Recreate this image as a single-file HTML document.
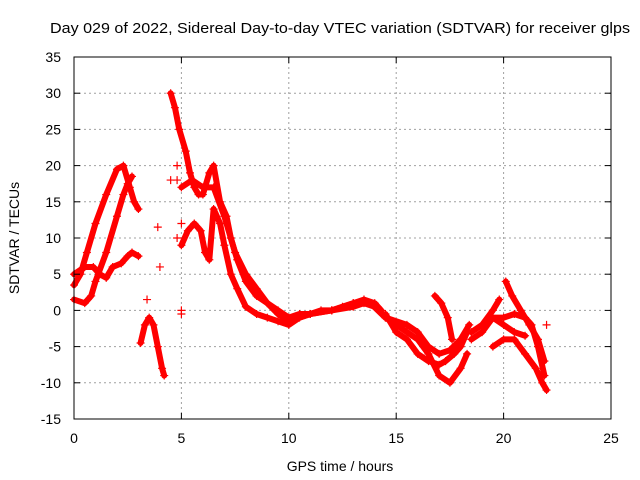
<!DOCTYPE html>
<html><head><meta charset="utf-8"><style>
body{margin:0;background:#fff;width:640px;height:480px;overflow:hidden}
svg{display:block}
text{font-family:"Liberation Sans",sans-serif;font-size:14px;fill:#000}
</style></head><body>
<svg id="chart" width="640" height="480" xmlns="http://www.w3.org/2000/svg">
<rect width="640" height="480" fill="#fff"/>
<g id="grid"></g>
<g id="marks"></g>
<rect x="74" y="57" width="537" height="362" fill="none" stroke="#000" stroke-width="1"/>
<g id="ticks"></g>
<text x="50" y="33" textLength="580" lengthAdjust="spacingAndGlyphs" style="font-size:15px">Day 029 of 2022, Sidereal Day-to-day VTEC variation (SDTVAR) for receiver glps</text>
<text x="340" y="471" text-anchor="middle">GPS time / hours</text>
<text x="19" y="238" text-anchor="middle" transform="rotate(-90 19 238)">SDTVAR / TECUs</text>
</svg>
<script>
const xTicks=[0,5,10,15,20,25];
const yTicks=[-15,-10,-5,0,5,10,15,20,25,30,35];
const trackA=[[0,3.5],[0.3,5],[0.6,8],[1,12],[1.5,16],[2,19.5],[2.3,20],[2.6,17],[2.8,15],[3.0,14]];
const trackB=[[0,1.5],[0.5,1],[0.8,2],[1,4],[1.5,8],[2,13],[2.3,16],[2.5,17.5],[2.7,18.5]];
const trackC=[[0,5],[0.5,6],[0.9,6],[1.2,5],[1.5,4.5],[1.8,6],[2.2,6.5],[2.5,7.5],[2.7,8],[3.0,7.5]];
const trackD=[[3.1,-4.5],[3.3,-2],[3.5,-1],[3.7,-2],[3.9,-5],[4.1,-8],[4.2,-9]];
const trackE=[[4.5,30],[4.7,28],[4.9,25],[5.2,22],[5.4,19],[5.6,17],[5.8,16],[6.0,16],[6.3,19],[6.5,20],[6.8,15],[7.1,13],[7.3,10],[7.6,7],[8,4],[8.5,2],[9,1],[9.5,0],[10,-1],[10.5,-0.5],[11,-0.5],[11.5,0],[12,0],[12.5,0.5],[13,1],[13.5,1.5],[14,1],[14.3,0]];
const trackF=[[5,9],[5.3,11],[5.6,12],[5.9,11],[6.1,8],[6.3,7],[6.5,14],[6.8,12],[7.0,9],[7.3,5],[7.6,3],[8,0.5],[8.5,-0.5],[9,-1],[9.5,-1.5],[10,-2],[10.5,-1],[11,-0.5],[12,0],[13,0.5],[13.5,1],[14,0.5],[14.5,-1],[15,-2],[15.5,-3],[16,-4],[16.5,-6],[17,-9],[17.5,-10],[18,-8],[18.3,-6]];
const trackG=[[5,17],[5.5,18],[6,17],[6.5,17],[7,13],[7.5,8],[8,5],[8.5,3],[9,1],[9.5,-0.5],[10,-1.5],[11,-0.5],[12,0],[13,1],[13.8,1],[14.5,-1],[15.5,-2],[16,-3],[16.5,-5],[17,-6],[17.5,-5.5],[18,-4],[18.4,-2]];
const trackH=[[14.5,-0.5],[15,-3],[15.5,-4],[16,-6],[16.5,-7],[17,-7.5],[17.3,-7],[17.7,-6],[18,-5],[18.3,-3]];
const trackI=[[16.8,2],[17.1,1],[17.4,-1],[17.6,-4]];
const trackJ=[[18.5,-3],[19,-2],[19.5,0],[19.8,1.5]];
const trackK=[[18.5,-4],[19,-3],[19.5,-1],[20,-1],[20.5,-0.5],[21,-1],[21.3,-2],[21.6,-5],[21.9,-9]];
const trackL=[[19.5,-5],[20,-4],[20.5,-4],[21,-6],[21.5,-8],[21.8,-10],[22,-11]];
const trackM=[[20.1,4],[20.4,2],[20.8,0],[21.2,-2],[21.6,-4],[21.9,-7]];
const trackN=[[19.5,-1],[20,-2],[20.5,-3],[21,-3.5]];
const scattered=[[3.4,1.5],[3.9,11.5],[4.0,6],[4.5,18],[5.0,0],[5.0,-0.5],[22,-2],[4.8,18],[4.8,10],[5.0,12],[6.2,8],[4.8,20]];
const tracks=[trackA,trackB,trackC,trackD,trackE,trackF,trackG,trackH,trackI,trackJ,trackK,trackL,trackM,trackN];

const X0=74,X1=611,Y0=419,Y1=57,xmin=0,xmax=25,ymin=-15,ymax=35;
const sx=v=>X0+(v-xmin)/(xmax-xmin)*(X1-X0);
const sy=v=>Y0-(v-ymin)/(ymax-ymin)*(Y0-Y1);
const NS="http://www.w3.org/2000/svg";
function mk(tag,attrs,parent){const e=document.createElementNS(NS,tag);for(const k in attrs)e.setAttribute(k,attrs[k]);parent.appendChild(e);return e;}
const grid=document.getElementById('grid'),ticks=document.getElementById('ticks'),marks=document.getElementById('marks');
xTicks.forEach(t=>{
  const x=sx(t);
  if(t>xmin&&t<xmax){const g=mk('line',{x1:x,x2:x,y1:Y1,y2:Y0,stroke:'#a0a0a0','stroke-dasharray':'2,3'},grid);
  
  }
  const a=mk('line',{x1:x,x2:x,y1:Y0,y2:Y0-6,stroke:'#000'},ticks);
  
  
  const b=mk('line',{x1:x,x2:x,y1:Y1,y2:Y1+6,stroke:'#000'},ticks);
  
  
  const l=mk('text',{x:x,y:443,'text-anchor':'middle'},ticks);l.textContent=t;
  
  
});
yTicks.forEach(t=>{
  const y=sy(t);
  if(t>ymin&&t<ymax){const g=mk('line',{x1:X0,x2:X1,y1:y,y2:y,stroke:'#a0a0a0','stroke-dasharray':'2,3'},grid);
  
  }
  const a=mk('line',{x1:X0,x2:X0+6,y1:y,y2:y,stroke:'#000'},ticks);
  
  
  const b=mk('line',{x1:X1,x2:X1-6,y1:y,y2:y,stroke:'#000'},ticks);
  
  
  const l=mk('text',{x:61,y:y+5,'text-anchor':'end'},ticks);l.textContent=t;
  
  
});
function plus(x,y){
  const p=mk('path',{d:`M${x-4} ${y}H${x+4}M${x} ${y-4}V${y+4}`,stroke:'#f00','stroke-width':1.2,fill:'none'},marks);
  
  
}
tracks.forEach(tr=>{
  const pl=mk('polyline',{points:tr.map(p=>sx(p[0])+','+sy(p[1])).join(' '),fill:'none',stroke:'#f00','stroke-width':6,'stroke-linejoin':'round','stroke-linecap':'round'},marks);
  
  
  tr.forEach(p=>plus(sx(p[0]),sy(p[1])));
});
scattered.forEach(p=>plus(sx(p[0]),sy(p[1])));
</script>
</body></html>
